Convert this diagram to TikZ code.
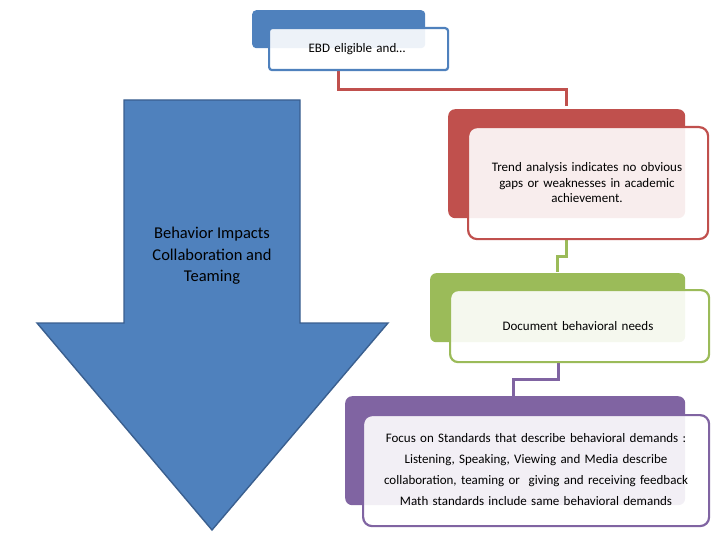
\documentclass[tikz,border=0pt]{standalone}
\usepackage{fontspec}
\setmainfont{Carlito}
\definecolor{cb}{HTML}{4F81BD}
\definecolor{cbd}{HTML}{3A5F8F}
\definecolor{cr}{HTML}{C0504D}
\definecolor{cg}{HTML}{9BBB59}
\definecolor{cp}{HTML}{8064A2}
\begin{document}
\begin{tikzpicture}[x=1pt,y=-1pt,
 back/.style={fill=#1,draw=none,rounded corners=4pt},
 front/.style={fill=white,fill opacity=0.9,text opacity=1,draw=#1,line width=2.2pt,rounded corners=6pt},
 txt/.style={font=\fontsize{13}{21}\selectfont,align=center,text width=#1,inner sep=0pt},
 conn/.style={draw=#1,line width=3pt}]
\useasboundingbox (0,0) rectangle (720,540);
% arrow
\draw[fill=cb,draw=cbd,line width=1.4pt] (124,100) -- (300,100) -- (300,323) -- (388,323) -- (212,530) -- (37,323) -- (124,323) -- cycle;
\node[font=\fontsize{16.5}{21.5}\selectfont,align=center,text=black] (arr) at (212,256) {Behavior Impacts\\Collaboration and\\Teaming};
% connectors
\coordinate (c1) at (338,69);
\draw[conn=cr] (c1) |- (566,90) -- (566,106);
\draw[conn=cg] (566,238) |- (557,256) -- (557,272);
\draw[conn=cp] (558,361) |- (513,379) -- (513,396);
% boxes
\node[back=cb,minimum width=173,minimum height=38,anchor=north west] (b1) at (252,10) {};
\node[front=cb,minimum width=179,minimum height=42,anchor=north west,rounded corners=3pt] (f1) at (268,27) {};
\node[txt=170pt] (t1) at (357,49) {EBD eligible and…};
\node[back=cr,minimum width=237,minimum height=109,anchor=north west,rounded corners=7pt] (b2) at (448,109) {};
\node[front=cr,minimum width=240,minimum height=112,anchor=north west,rounded corners=9pt] (f2) at (467,126) {};
\node[txt=215pt,font=\fontsize{13}{15.5}\selectfont] (t2) at (587,183) {Trend analysis indicates no obvious\\ gaps or weaknesses in academic\\ achievement.};
\node[back=cg,minimum width=255,minimum height=69,anchor=north west,rounded corners=6pt] (b3) at (430,273) {};
\node[front=cg,minimum width=259,minimum height=72,anchor=north west,rounded corners=8pt] (f3) at (449,289) {};
\node[txt=240pt] (t3) at (578,326) {Document behavioral needs};
\node[back=cp,minimum width=340,minimum height=109,anchor=north west,rounded corners=7pt] (b4) at (345,396) {};
\node[front=cp,minimum width=346,minimum height=111,anchor=north west,rounded corners=9pt] (f4) at (362,414) {};
\node[txt=345pt] (t4) at (536,470) {Focus on Standards that describe behavioral demands :\\ Listening, Speaking, Viewing and Media describe\\ collaboration, teaming or\ \ giving and receiving feedback\\ Math standards include same behavioral demands};
\end{tikzpicture}
\end{document}
